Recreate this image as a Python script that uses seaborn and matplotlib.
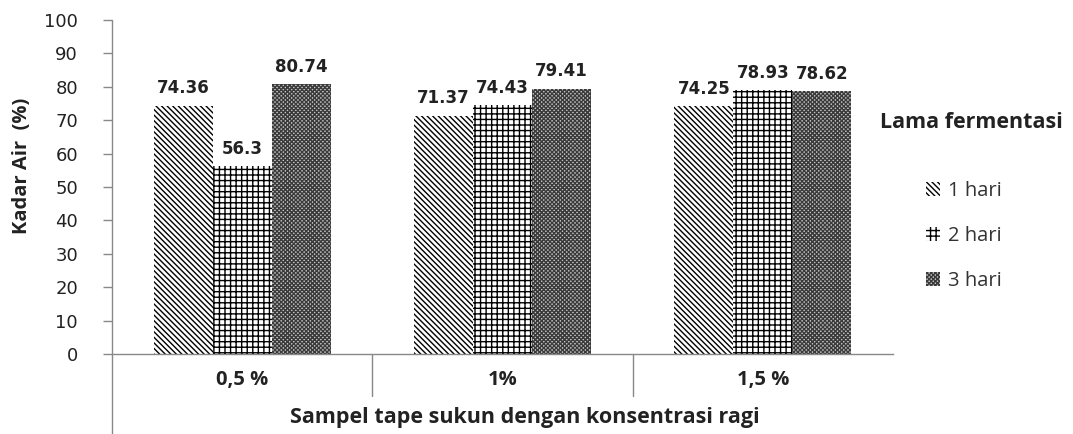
import matplotlib
matplotlib.use("Agg")
import matplotlib.pyplot as plt
import seaborn as sns
import pandas as pd
from matplotlib.patches import Patch
from matplotlib.lines import Line2D

categories = ["0,5 %", "1%", "1,5 %"]
series_names = ["1 hari", "2 hari", "3 hari"]
hari1 = [74.36, 71.37, 74.25]
hari2 = [56.3, 74.43, 78.93]
hari3 = [80.74, 79.41, 78.62]
label_text = [["74.36", "71.37", "74.25"], ["56.3", "74.43", "78.93"], ["80.74", "79.41", "78.62"]]

rows = []
for s, vals in zip(series_names, [hari1, hari2, hari3]):
    for c, v in zip(categories, vals):
        rows.append({"cat": c, "series": s, "val": v})
df = pd.DataFrame(rows)

sns.set_style("white")
plt.rcParams["font.family"] = ["DejaVu Sans"]
plt.rcParams["hatch.linewidth"] = 1.0

SANS = ["Open Sans", "DejaVu Sans"]

fig = plt.figure(figsize=(10.73, 4.34), dpi=100)
ax = fig.add_axes([112/1073, 1-354/434, (893-112)/1073, (354-20)/434])

sns.barplot(data=df, x="cat", y="val", hue="series", order=categories,
            hue_order=series_names, width=0.68, ax=ax, legend=False,
            palette=["white", "white", "white"], saturation=1)

hatches = ["\\" * 6, "+++", "x" * 8]
faces = ["white", "white", "#c4c4c4"]
edges = ["black", "black", "#3a3a3a"]
for i, cont in enumerate(ax.containers):
    for j, p in enumerate(cont.patches):
        p.set_hatch(hatches[i])
        p.set_facecolor(faces[i])
        p.set_edgecolor(edges[i])
        p.set_linewidth(0)
        x = p.get_x() + p.get_width() / 2
        ax.annotate(label_text[i][j], (x, p.get_height()), xytext=(0, 6),
                    textcoords="offset points", ha="center", va="bottom",
                    fontsize=12, fontweight="bold", color="#222222")

ax.set_ylim(0, 100)
ax.set_xlim(-0.5, 2.5)
ax.set_yticks(range(0, 101, 10))
ax.tick_params(axis="y", which="both", left=True, length=6.5, width=1, color="#888888",
               labelsize=13, labelcolor="#222222", pad=18)
ax.tick_params(axis="x", bottom=False, labelbottom=False)
for s in ["top", "right", "left"]:
    ax.spines[s].set_visible(False)
ax.spines["bottom"].set_color("#888888")
ax.spines["bottom"].set_linewidth(1)
ax.set_xlabel("")
ax.set_ylabel("Kadar Air  (%)", fontsize=14.5, fontweight="bold", color="#222222",
              family=SANS)
ax.yaxis.set_label_coords((32 - 112)/781, (354-166)/334)

trans = ax.get_xaxis_transform()
ax.add_line(Line2D([-0.5, -0.5], [1.0, -80/334], transform=trans, color="#888888",
                   lw=1, clip_on=False))
for xs in [0.5, 1.5]:
    ax.add_line(Line2D([xs, xs], [0, -42/334], transform=trans, color="#888888",
                       lw=1, clip_on=False))
for k, c in enumerate(categories):
    ax.text(k, -26/334, c, transform=trans, ha="center", va="center",
            fontsize=14.5, fontweight="bold", family=SANS, color="#222222")
ax.text(1.087, -64/334, "Sampel tape sukun dengan konsentrasi ragi", transform=trans,
        ha="center", va="center", fontsize=15.5, fontweight="bold",
        family=SANS, color="#222222")

fig.text(880/1073, 1-123/434, "Lama fermentasi", ha="left", va="center",
         fontsize=15.5, fontweight="bold", family=SANS, color="#222222")
handles = [Patch(facecolor=faces[i], edgecolor=edges[i], hatch=hatches[i], linewidth=0)
           for i in range(3)]
leg = fig.legend(handles, series_names, loc="upper left",
                 bbox_to_anchor=(908/1073, 1-163/434), frameon=False,
                 handlelength=0.7, handleheight=0.7, handletextpad=0.4,
                 labelspacing=1.25, prop={"family": SANS, "size": 14.5})
for t in leg.get_texts():
    t.set_color("#333333")

fig.savefig("out.png", dpi=100)
